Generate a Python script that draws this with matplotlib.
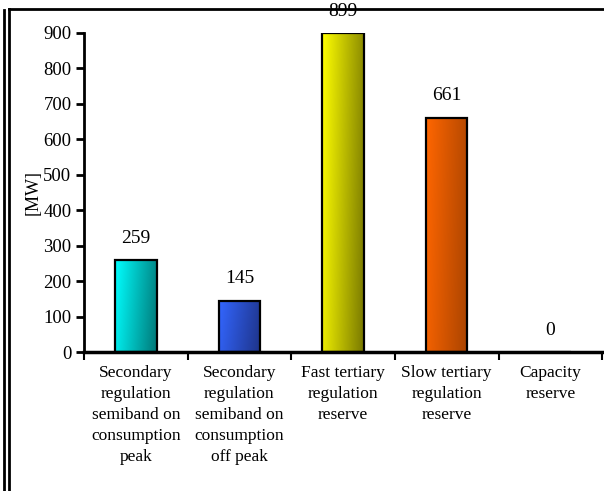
import numpy as np
import matplotlib
matplotlib.use("Agg")
import matplotlib.pyplot as plt
from matplotlib.colors import LinearSegmentedColormap
from matplotlib.lines import Line2D

plt.rcParams['font.family'] = ['Liberation Serif', 'DejaVu Serif']

categories = ["Secondary\nregulation\nsemiband on\nconsumption\npeak",
              "Secondary\nregulation\nsemiband on\nconsumption\noff peak",
              "Fast tertiary\nregulation\nreserve",
              "Slow tertiary\nregulation\nreserve",
              "Capacity\nreserve"]
values = [259, 145, 899, 661, 0]
light = ["#00FFFF", "#3366FF", "#FFFF00", "#FF6600", "#CCCCCC"]
dark = ["#007878", "#1E3388", "#7A7A00", "#AA4400", "#666666"]

fig = plt.figure(figsize=(6.04, 4.91), dpi=100)
ax = fig.add_axes([0.139, 0.283, 0.858, 0.65])

x = np.arange(len(values))
bars = ax.bar(x, values, width=0.4, color="none", edgecolor="black", linewidth=1.6, zorder=3)

# gradient fill inside each bar (left light -> right dark, slightly diagonal)
gx, gy = np.meshgrid(np.linspace(0, 1, 64), np.linspace(0, 1, 64))
grad = np.clip(0.85 * gx + 0.15 * (1 - gy), 0, 1)
for b, c1, c2 in zip(bars, light, dark):
    if b.get_height() <= 0:
        continue
    cmap = LinearSegmentedColormap.from_list("g", [c1, c2])
    im = ax.imshow(grad, cmap=cmap, origin="lower", aspect="auto",
                   extent=[b.get_x(), b.get_x() + b.get_width(), 0, b.get_height()], zorder=2)
    im.set_clip_path(b)

# value labels
for xi, v in zip(x, values):
    ax.text(xi, v + 38, str(v), ha="center", va="bottom", fontsize=14, clip_on=False)

ax.set_xlim(-0.5, 4.5)
ax.set_ylim(0, 900)
ax.set_yticks(range(0, 901, 100))
ax.set_xticks(np.arange(-0.5, 4.6, 1))
ax.set_xticklabels([])
ax.tick_params(axis="y", direction="out", length=6, width=2, labelsize=13.5, pad=3)
ax.tick_params(axis="x", direction="out", length=6, width=1.5)
for xi, lab in zip(x, categories):
    ax.text(xi, -36, lab, ha="center", va="top", fontsize=12.5, linespacing=1.42)

ax.spines["top"].set_visible(False)
ax.spines["right"].set_visible(False)
ax.spines["left"].set_linewidth(2)
ax.spines["bottom"].set_linewidth(2.5)
ax.set_ylabel("[MW]", fontsize=13, labelpad=1)

# frame around picture (cropped double border)
W, H = 604, 491
fig.add_artist(Line2D([4 / W, 4 / W], [0, 1 - 10 / H], color="black", lw=2, transform=fig.transFigure))
fig.add_artist(Line2D([9 / W, 9 / W], [0, 1 - 9 / H], color="black", lw=2, transform=fig.transFigure))
fig.add_artist(Line2D([9 / W, 1], [1 - 9 / H, 1 - 9 / H], color="black", lw=2, transform=fig.transFigure))

fig.savefig("out.png", dpi=100)
